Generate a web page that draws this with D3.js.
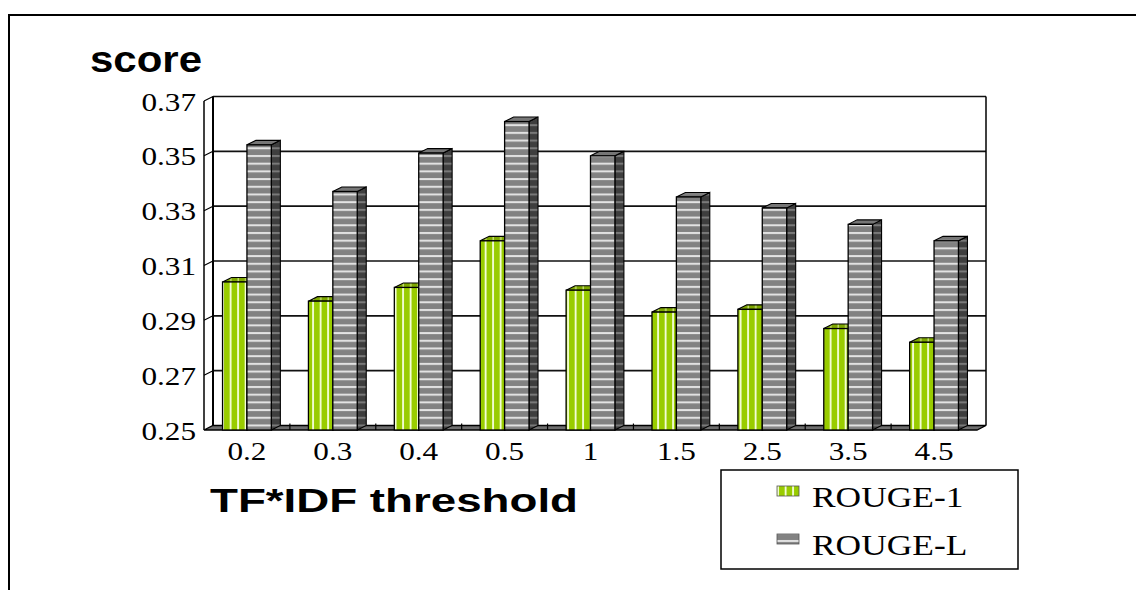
<!DOCTYPE html>
<html>
<head>
<meta charset="utf-8">
<script src="https://cdn.jsdelivr.net/npm/d3@7"></script>
<style>
  html, body { margin: 0; padding: 0; background: #fff; }
  svg { display: block; }
</style>
</head>
<body>
<svg id="chart" width="1136" height="590"></svg>
<script>
// Scores per TF*IDF threshold
const categories = ["0.2", "0.3", "0.4", "0.5", "1", "1.5", "2.5", "3.5", "4.5"];
const seriesNames = ["ROUGE-1", "ROUGE-L"];
const rouge1 = [0.304, 0.297, 0.302, 0.319, 0.301, 0.293, 0.294, 0.287, 0.282];
const rougeL = [0.354, 0.337, 0.351, 0.3625, 0.350, 0.335, 0.331, 0.325, 0.319];
const yTickValues = [0.25, 0.27, 0.29, 0.31, 0.33, 0.35, 0.37];

const svg = d3.select("#chart");
const defs = svg.append("defs");

// Stripe fills for the pseudo-3D columns
function stripePattern(id, w, h, base, stripe, vertical, sw) {
  const p = defs.append("pattern").attr("id", id)
    .attr("patternUnits", "userSpaceOnUse").attr("width", w).attr("height", h);
  p.append("rect").attr("width", w).attr("height", h).attr("fill", base);
  if (vertical) p.append("rect").attr("x", w - sw - 1).attr("width", sw).attr("height", h).attr("fill", stripe);
  else p.append("rect").attr("y", 1).attr("width", w).attr("height", sw).attr("fill", stripe);
}
stripePattern("gFront", 7.5, 10, "#99cc00", "#f6ffdc", true, 1.8);
stripePattern("gTop", 7.5, 10, "#7da600", "#c8e07a", true, 1.4);
stripePattern("gSide", 7.5, 10, "#5f7d00", "#98b840", true, 1.4);
stripePattern("lFront", 10, 7.7, "#828282", "#e4e4e4", false, 2);
stripePattern("lTop", 10, 7.7, "#767676", "#8e8e8e", false, 1);
stripePattern("lSide", 10, 7.7, "#3e3e3e", "#7a7a7a", false, 2);

const fills = {
  "ROUGE-1": { front: "url(#gFront)", top: "url(#gTop)", side: "url(#gSide)" },
  "ROUGE-L": { front: "url(#lFront)", top: "url(#lTop)", side: "url(#lSide)" }
};

// Frame (top and left edges)
svg.append("line").attr("x1", 8).attr("x2", 1136).attr("y1", 15).attr("y2", 15)
  .attr("stroke", "#000").attr("stroke-width", 2);
svg.append("line").attr("x1", 9).attr("x2", 9).attr("y1", 14).attr("y2", 590)
  .attr("stroke", "#000").attr("stroke-width", 2);

// Scales: x on the front plane, y on the back wall
const DX = 9, DY = 4.5;
const x = d3.scaleBand().domain(categories).range([204, 977]).paddingInner(0).paddingOuter(0);
const xs = d3.scaleBand().domain(seriesNames).range([0, x.bandwidth()]).paddingInner(0).paddingOuter(0.76);
const y = d3.scaleLinear().domain([0.25, 0.37]).range([425.5, 96.5]);
const yF = v => y(v) + DY;
const x0 = 204, x1 = 977;

// Back wall and gridlines
const wall = svg.append("g");
wall.append("rect").attr("x", x0 + DX).attr("y", y(0.37)).attr("width", x1 - x0).attr("height", y(0.25) - y(0.37)).attr("fill", "#fff");
wall.selectAll("line.grid").data(yTickValues.slice(1)).join("line").attr("class", "grid")
  .attr("x1", x0 + DX).attr("x2", x1 + DX).attr("y1", d => y(d)).attr("y2", d => y(d))
  .attr("stroke", "#111").attr("stroke-width", 1.6);
// Left wall ticks joining the front axis to the back wall
wall.selectAll("line.side").data(yTickValues.slice(1)).join("line").attr("class", "side")
  .attr("x1", x0).attr("x2", x0 + DX).attr("y1", d => yF(d)).attr("y2", d => y(d))
  .attr("stroke", "#000").attr("stroke-width", 1.2);
wall.append("line").attr("x1", x0 + DX).attr("x2", x0 + DX).attr("y1", y(0.37)).attr("y2", y(0.25))
  .attr("stroke", "#000").attr("stroke-width", 2);
wall.append("line").attr("x1", x1 + DX).attr("x2", x1 + DX).attr("y1", y(0.37)).attr("y2", y(0.25))
  .attr("stroke", "#000").attr("stroke-width", 1.5);
wall.append("line").attr("x1", x0).attr("x2", x0).attr("y1", yF(0.37)).attr("y2", yF(0.25))
  .attr("stroke", "#000").attr("stroke-width", 1.5);

// Floor
svg.append("path")
  .attr("d", `M${x0},${yF(0.25)}L${x1},${yF(0.25)}L${x1 + DX},${y(0.25)}L${x0 + DX},${y(0.25)}Z`)
  .attr("fill", "#6e6e6e").attr("stroke", "#000").attr("stroke-width", 1.3);
svg.selectAll("line.ftick").data(categories.slice(1)).join("line").attr("class", "ftick")
  .attr("x1", d => x(d)).attr("x2", d => x(d)).attr("y1", y(0.25) - 2).attr("y2", yF(0.25))
  .attr("stroke", "#000").attr("stroke-width", 1.2);

// Columns
const rows = categories.map((c, i) => ({ cat: c, vals: [["ROUGE-1", rouge1[i]], ["ROUGE-L", rougeL[i]]] }));
const bars = svg.append("g");
rows.forEach(r => {
  r.vals.forEach(([s, v]) => {
    const bx0 = x(r.cat) + xs(s), bx1 = bx0 + xs.bandwidth();
    const top = yF(v), bot = yF(0.25);
    const g = bars.append("g");
    g.append("path")
      .attr("d", `M${bx1},${top}L${bx1 + DX},${top - DY}L${bx1 + DX},${bot - DY}L${bx1},${bot}Z`)
      .attr("fill", fills[s].side).attr("stroke", "#000").attr("stroke-width", 1.1);
    g.append("path")
      .attr("d", `M${bx0},${top}L${bx1},${top}L${bx1 + DX},${top - DY}L${bx0 + DX},${top - DY}Z`)
      .attr("fill", fills[s].top).attr("stroke", "#000").attr("stroke-width", 1.1);
    g.append("rect").attr("x", bx0).attr("y", top).attr("width", bx1 - bx0).attr("height", bot - top)
      .attr("fill", fills[s].front).attr("stroke", "#000").attr("stroke-width", 1.3);
  });
});

// Axis labels (serif, drawn wide)
const SX = 1.2;
svg.selectAll("text.ytick").data(yTickValues).join("text").attr("class", "ytick")
  .attr("transform", d => `translate(196,${yF(d) + 9.5}) scale(${SX},1)`)
  .attr("text-anchor", "end").attr("font-family", "'Liberation Serif', serif").attr("font-size", 26)
  .text(d => d.toFixed(2));
svg.selectAll("text.xtick").data(categories).join("text").attr("class", "xtick")
  .attr("transform", d => `translate(${x(d) + x.bandwidth() / 2},460) scale(${SX},1)`)
  .attr("text-anchor", "middle").attr("font-family", "'Liberation Serif', serif").attr("font-size", 26)
  .text(d => d);

// Titles
svg.append("text").attr("x", 90).attr("y", 72)
  .attr("font-family", "'Liberation Sans', Arial, sans-serif").attr("font-weight", "bold").attr("font-size", 36)
  .attr("textLength", 112).attr("lengthAdjust", "spacingAndGlyphs").text("score");
svg.append("text").attr("x", 210).attr("y", 512)
  .attr("font-family", "'Liberation Sans', Arial, sans-serif").attr("font-weight", "bold").attr("font-size", 34)
  .attr("textLength", 368).attr("lengthAdjust", "spacingAndGlyphs").text("TF*IDF threshold");

// Legend
const legend = svg.append("g");
legend.append("rect").attr("x", 721).attr("y", 470).attr("width", 297).attr("height", 99)
  .attr("fill", "#fff").attr("stroke", "#000").attr("stroke-width", 1.5);
const legendRows = [
  { name: seriesNames[0], sw: "url(#gFront)", base: 507 },
  { name: seriesNames[1], sw: "url(#lFront)", base: 555 }
];
legendRows.forEach(d => {
  legend.append("rect").attr("x", 777).attr("y", d.base - 21).attr("width", 22).attr("height", 10)
    .attr("fill", d.sw).attr("stroke", "#555").attr("stroke-width", 0.8);
  legend.append("text").attr("transform", `translate(812,${d.base}) scale(1.18,1)`)
    .attr("font-family", "'Liberation Serif', serif").attr("font-size", 30).text(d.name);
});
</script>
</body>
</html>
